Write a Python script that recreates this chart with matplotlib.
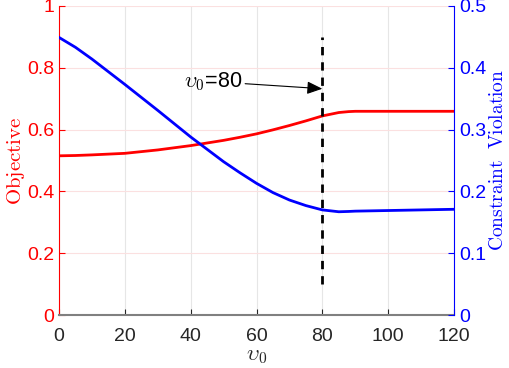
import numpy as np
import matplotlib
matplotlib.use('Agg')
import matplotlib.pyplot as plt

plt.rcParams['font.family'] = 'Liberation Sans'
plt.rcParams['mathtext.fontset'] = 'cm'

# data
v0 = [0, 5, 10, 20, 30, 40, 50, 55, 60, 65, 70, 75, 80, 85, 88, 90, 100, 110, 120]
objective = [0.515, 0.516, 0.518, 0.523, 0.534, 0.548, 0.565, 0.575, 0.586, 0.599, 0.613, 0.628,
             0.644, 0.655, 0.658, 0.659, 0.659, 0.659, 0.659]
violation = [0.449, 0.433, 0.414, 0.373, 0.331, 0.288, 0.248, 0.230, 0.213, 0.198, 0.186, 0.177,
             0.170, 0.167, 0.1675, 0.168, 0.169, 0.170, 0.171]

v_mark = 80
mark_lo, mark_hi = 0.1, 0.9

red = '#ff0000'
blue = '#0000ff'
dark = '#262626'

fig = plt.figure(figsize=(5.1, 3.68), dpi=100)
ax = fig.add_axes([0.1157, 0.144, 0.7745, 0.840])
ax2 = ax.twinx()

ax.plot(v0, objective, color=red, lw=2)
ax2.plot(v0, violation, color=blue, lw=2)
ax.plot([v_mark, v_mark], [mark_lo, mark_hi], 'k--', lw=2, dashes=(3, 2.5))

ax.annotate(r'$\upsilon_{\mathsf{0}}$=80', xy=(v_mark, 0.732), xytext=(38, 0.755),
            fontsize=15.5, ha='left', va='center',
            arrowprops=dict(arrowstyle='-|>,head_length=0.6,head_width=0.25',
                            color='k', lw=0.8, shrinkA=0, shrinkB=0))

ax.set_xlim(0, 120)
ax.set_ylim(0, 1)
ax2.set_ylim(0, 0.5)
ax.set_xticks(np.arange(0, 121, 20))
ax.set_yticks(np.arange(0, 1.01, 0.2))
ax.set_yticklabels(['0', '0.2', '0.4', '0.6', '0.8', '1'])
ax2.set_yticks(np.arange(0, 0.51, 0.1))
ax2.set_yticklabels(['0', '0.1', '0.2', '0.3', '0.4', '0.5'])

ax.grid(axis='x', color='#e6e6e6', lw=0.8)
ax.grid(axis='y', color='#fbe0e0', lw=0.8)
ax.set_axisbelow(True)

for a in (ax, ax2):
    a.spines['top'].set_visible(False)
ax.spines['right'].set_visible(False)
ax2.spines['left'].set_visible(False)
ax2.spines['bottom'].set_visible(False)
ax.spines['left'].set_color(red)
ax2.spines['right'].set_color(blue)
ax.spines['bottom'].set_color('#808080')
ax.spines['bottom'].set_linewidth(1.5)

ax.tick_params(axis='x', direction='in', colors=dark, labelsize=14, length=4, pad=9)
ax.tick_params(axis='y', direction='in', colors=red, labelsize=14, length=4)
ax2.tick_params(axis='y', direction='in', colors=blue, labelsize=14, length=4)

ax.set_xlabel(r'$\upsilon_0$', fontsize=16, color=dark, labelpad=0)
ax.set_ylabel(r'$\mathrm{Objective}$', fontsize=15, color=red, labelpad=0)
ax2.set_ylabel(r'$\mathrm{Constraint\ \ Violation}$', fontsize=14, color=blue, labelpad=2)

fig.savefig('out.png', dpi=100)
